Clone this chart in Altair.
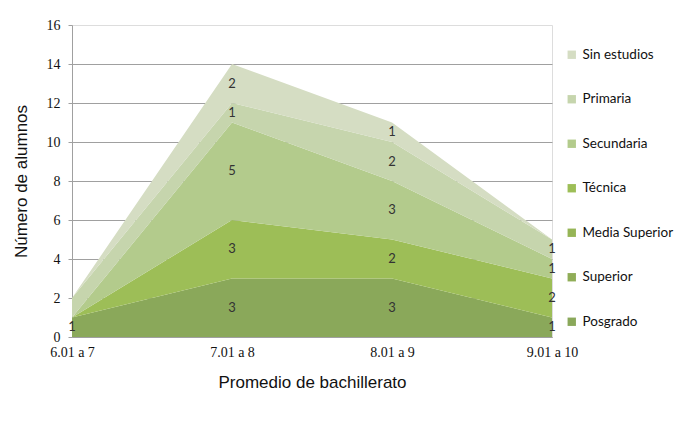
import altair as alt
import pandas as pd

categories = ["6.01 a 7", "7.01 a 8", "8.01 a 9", "9.01 a 10"]
# series, bottom of the stack first
series = ["Posgrado", "Superior", "Media Superior", "Técnica", "Secundaria", "Primaria", "Sin estudios"]
posgrado = [1, 3, 3, 1]
superior = [0, 0, 0, 0]
media_superior = [0, 0, 0, 0]
tecnica = [0, 3, 2, 2]
secundaria = [0, 5, 3, 1]
primaria = [1, 1, 2, 1]
sin_estudios = [0, 2, 1, 0]
colors = ["#8aa85a", "#90ad57", "#96b556", "#9dbe57", "#b3cb8c", "#c6d5ad", "#d5ddc3"]
y_ticks = [0, 2, 4, 6, 8, 10, 12, 14, 16]

values = [posgrado, superior, media_superior, tecnica, secundaria, primaria, sin_estudios]
rows = []
for i, (s, vals) in enumerate(zip(series, values)):
    for c, v in zip(categories, vals):
        rows.append({"cat": c, "serie": s, "value": v, "orden": i})
df = pd.DataFrame(rows)

legend_order = list(reversed(series))
legend_colors = list(reversed(colors))

x_axis = alt.Axis(title="Promedio de bachillerato", labelAngle=0,
                  labelFont="Liberation Serif", labelFontSize=14,
                  labelColor="#111", labelPadding=8, ticks=False,
                  domainColor="#a0a0a0", grid=False,
                  titleFont="Liberation Sans", titleFontSize=17,
                  titleFontWeight="normal", titleColor="#111",
                  titlePadding=15)
y_axis = alt.Axis(title="Número de alumnos", values=y_ticks,
                  labelFont="Liberation Serif", labelFontSize=14,
                  labelColor="#111", labelPadding=8, tickSize=4,
                  tickColor="#a0a0a0", domainColor="#a0a0a0",
                  gridColor="#a0a0a0",
                  gridOpacity={"condition": {"test": "datum.value >= 16", "value": 0}, "value": 1},
                  titleFont="Liberation Sans", titleFontSize=17,
                  titleFontWeight="normal", titleColor="#111",
                  titlePadding=16)
x_scale = alt.Scale(type="point", padding=0)
y_scale = alt.Scale(domain=[0, 16], nice=False)

base = alt.Chart(df)

area = base.mark_area(interpolate="linear", opacity=1).encode(
    x=alt.X("cat:N", sort=categories, scale=x_scale, axis=x_axis),
    y=alt.Y("value:Q", stack="zero", scale=y_scale, axis=y_axis),
    color=alt.Color("serie:N", scale=alt.Scale(domain=legend_order, range=legend_colors),
                    legend=alt.Legend(title=None, orient="none", legendX=493, legendY=23,
                                      symbolType="square", symbolSize=70,
                                      symbolStrokeWidth=0,
                                      labelFont="Lato", labelFontSize=13.5,
                                      labelColor="#111", rowPadding=29.5,
                                      labelOffset=4)),
    order=alt.Order("orden:Q", sort="ascending"),
)

labels = base.transform_stack(
    stack="value", groupby=["cat"], as_=["y0", "y1"],
    sort=[alt.SortField("orden", order="ascending")]
).transform_calculate(
    mid="(datum.y0 + datum.y1) / 2"
).transform_filter(
    "datum.value > 0 && !(datum.cat == '6.01 a 7' && datum.orden > 0)"
).mark_text(font="Lato", fontSize=13, color="#333").encode(
    x=alt.X("cat:N", sort=categories, scale=x_scale, axis=x_axis),
    y=alt.Y("mid:Q", scale=y_scale, axis=y_axis),
    text=alt.Text("value:Q"),
)

chart = alt.layer(area, labels).properties(
    width=480, height=312,
    autosize=alt.AutoSizeParams(type="none"),
    padding={"left": 64, "top": 17, "right": 123, "bottom": 77},
).configure_view(stroke=None, strokeWidth=0).configure(background="white")

chart.save("out.html", embed_options={"renderer": "svg", "actions": False})
